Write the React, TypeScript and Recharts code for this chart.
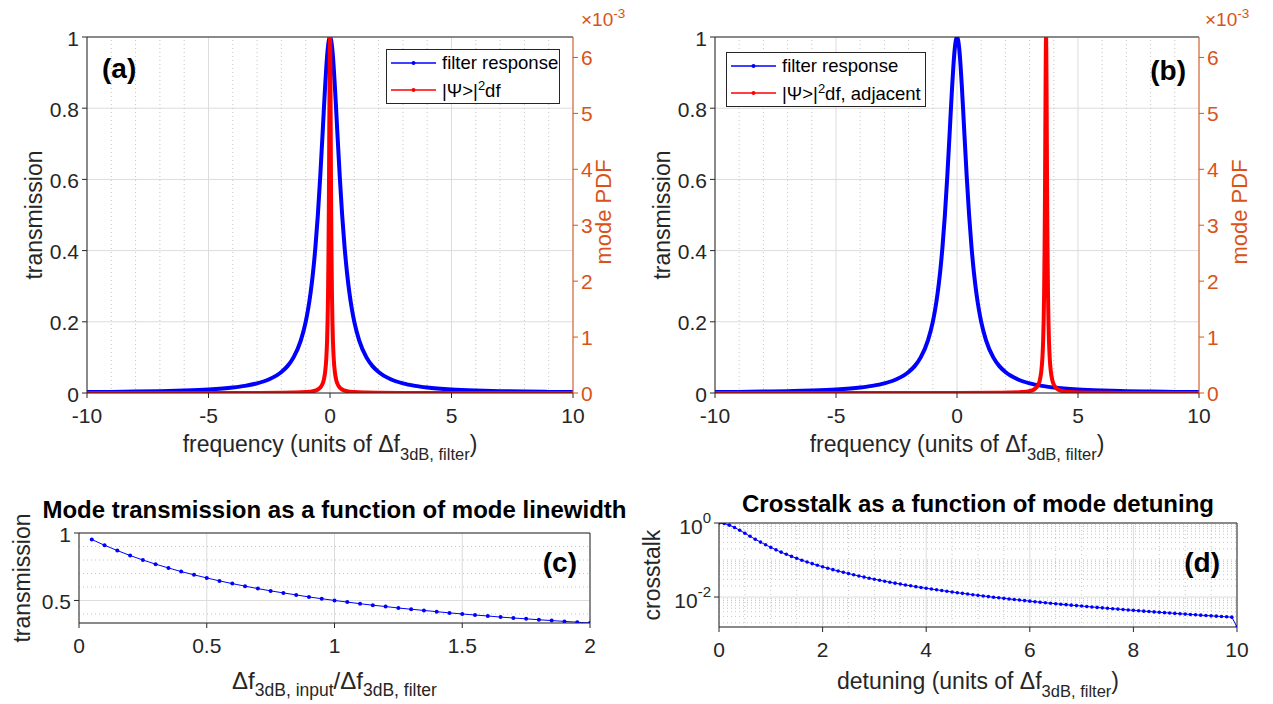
import React from 'react';
import { LineChart, Line, XAxis, YAxis, CartesianGrid, ReferenceLine, Legend } from 'recharts';

const FONT = '"Liberation Sans", Arial, Helvetica, sans-serif';
const AXIS = '#262626';
const GRID = '#dcdcdc';
const MINOR = '#c4c4c4';
const BLUE = '#0000ff';
const RED = '#ff0000';
const ORANGE = '#d95319';
const TICK_FS = 21;
const LABEL_FS = 23;
const SUB_FS = 16.5;

// (a)/(b) filter response
const filterX = [
  -10, -9, -8, -7, -6, -5, -4, -3.5, -3, -2.5, -2, -1.75, -1.5, -1.2, -1, -0.9, -0.8, -0.7, -0.6, -0.5, -0.4, -0.3,
  -0.25, -0.2, -0.15, -0.1, -0.05, 0, 0.05, 0.1, 0.15, 0.2, 0.25, 0.3, 0.4, 0.5, 0.6, 0.7, 0.8, 0.9, 1, 1.2, 1.5,
  1.75, 2, 2.5, 3, 3.5, 4, 5, 6, 7, 8, 9, 10,
];
const filterY = [
  0.0025, 0.0031, 0.0039, 0.0051, 0.0069, 0.0099, 0.0154, 0.02, 0.027, 0.0385, 0.0588, 0.0755, 0.1, 0.148, 0.2, 0.236,
  0.281, 0.338, 0.41, 0.5, 0.61, 0.735, 0.8, 0.862, 0.917, 0.962, 0.99, 1, 0.99, 0.962, 0.917, 0.862, 0.8, 0.735, 0.61,
  0.5, 0.41, 0.338, 0.281, 0.236, 0.2, 0.148, 0.1, 0.0755, 0.0588, 0.0385, 0.027, 0.02, 0.0154, 0.0099, 0.0069, 0.0051,
  0.0039, 0.0031, 0.0025,
];

// (a) mode PDF, x10^-3
const modeXA = [
  -10, -5, -3, -2, -1.5, -1, -0.7, -0.5, -0.4, -0.3, -0.25, -0.2, -0.15, -0.12, -0.1, -0.08, -0.06, -0.05, -0.04, -0.03,
  -0.02, -0.01, 0, 0.01, 0.02, 0.03, 0.04, 0.05, 0.06, 0.08, 0.1, 0.12, 0.15, 0.2, 0.25, 0.3, 0.4, 0.5, 0.7, 1, 1.5, 2,
  3, 5, 10,
];
const modePdfA = [
  0.00016, 0.00064, 0.0018, 0.004, 0.0071, 0.0159, 0.0323, 0.063, 0.098, 0.172, 0.245, 0.374, 0.637, 0.942, 1.273,
  1.788, 2.609, 3.183, 3.882, 4.681, 5.488, 6.121, 6.366, 6.121, 5.488, 4.681, 3.882, 3.183, 2.609, 1.788, 1.273, 0.942,
  0.637, 0.374, 0.245, 0.172, 0.098, 0.063, 0.0323, 0.0159, 0.0071, 0.004, 0.0018, 0.00064, 0.00016,
];

// (b) adjacent mode PDF, x10^-3
const modeXB = [
  -10, -5, 0, 1.68, 2.18, 2.68, 2.98, 3.18, 3.28, 3.38, 3.43, 3.48, 3.53, 3.56, 3.58, 3.6, 3.62, 3.63, 3.64, 3.65, 3.66,
  3.67, 3.68, 3.69, 3.7, 3.71, 3.72, 3.73, 3.74, 3.76, 3.78, 3.8, 3.83, 3.88, 3.93, 3.98, 4.08, 4.18, 4.38, 4.68, 5.18,
  5.68, 6.68, 8.68, 10,
];
const modePdfB = [
  0.000085, 0.00021, 0.00118, 0.004, 0.0071, 0.0159, 0.0323, 0.063, 0.098, 0.172, 0.245, 0.374, 0.637, 0.942, 1.273,
  1.788, 2.609, 3.183, 3.882, 4.681, 5.488, 6.121, 6.366, 6.121, 5.488, 4.681, 3.882, 3.183, 2.609, 1.788, 1.273, 0.942,
  0.637, 0.374, 0.245, 0.172, 0.098, 0.063, 0.0323, 0.0159, 0.0071, 0.004, 0.0018, 0.00064, 0.0004,
];

const freqTicks = [-10, -5, 0, 5, 10];
const freqMinor = [-9, -8, -7, -6, -4, -3, -2, -1, 1, 2, 3, 4, 6, 7, 8, 9];
const transTicks = [0, 0.2, 0.4, 0.6, 0.8, 1];
const pdfTicks = [0, 1, 2, 3, 4, 5, 6];
const pdfMax = 6.366;

// (c) mode transmission vs linewidth ratio
const ratioC = [
  0.05, 0.1, 0.15, 0.2, 0.25, 0.3, 0.35, 0.4, 0.45, 0.5, 0.55, 0.6, 0.65, 0.7, 0.75, 0.8, 0.85, 0.9, 0.95, 1, 1.05, 1.1,
  1.15, 1.2, 1.25, 1.3, 1.35, 1.4, 1.45, 1.5, 1.55, 1.6, 1.65, 1.7, 1.75, 1.8, 1.85, 1.9, 1.95, 2,
];
const transC = [
  0.952, 0.909, 0.87, 0.833, 0.8, 0.769, 0.741, 0.714, 0.69, 0.667, 0.645, 0.625, 0.606, 0.588, 0.571, 0.556, 0.541,
  0.526, 0.513, 0.5, 0.488, 0.476, 0.465, 0.455, 0.444, 0.435, 0.426, 0.417, 0.408, 0.4, 0.392, 0.385, 0.377, 0.37,
  0.364, 0.357, 0.351, 0.345, 0.339, 0.333,
];
const ticksCx = [0, 0.5, 1, 1.5, 2];
const ticksCy = [0.5, 1];
const minorCy = [0.4, 0.6, 0.7, 0.8, 0.9];

// (d) crosstalk vs detuning
const detuneD = [
  0, 0.1, 0.2, 0.3, 0.4, 0.5, 0.6, 0.7, 0.8, 0.9,
  1, 1.1, 1.2, 1.3, 1.4, 1.5, 1.6, 1.7, 1.8, 1.9,
  2, 2.1, 2.2, 2.3, 2.4, 2.5, 2.6, 2.7, 2.8, 2.9,
  3, 3.1, 3.2, 3.3, 3.4, 3.5, 3.6, 3.7, 3.8, 3.9,
  4, 4.1, 4.2, 4.3, 4.4, 4.5, 4.6, 4.7, 4.8, 4.9,
  5, 5.1, 5.2, 5.3, 5.4, 5.5, 5.6, 5.7, 5.8, 5.9,
  6, 6.1, 6.2, 6.3, 6.4, 6.5, 6.6, 6.7, 6.8, 6.9,
  7, 7.1, 7.2, 7.3, 7.4, 7.5, 7.6, 7.7, 7.8, 7.9,
  8, 8.1, 8.2, 8.3, 8.4, 8.5, 8.6, 8.7, 8.8, 8.9,
  9, 9.1, 9.2, 9.3, 9.4, 9.5, 9.6, 9.7, 9.8, 9.9,
  10,
];
const crossD = [
  1, 0.966, 0.875, 0.757, 0.637, 0.529, 0.438, 0.364, 0.305, 0.2575,
  0.2193, 0.1884, 0.1632, 0.1425, 0.1254, 0.111, 0.0989, 0.0886, 0.0798, 0.0722,
  0.0656, 0.0599, 0.0549, 0.0504, 0.0465, 0.043, 0.0399, 0.0371, 0.0346, 0.0323,
  0.0303, 0.0284, 0.0267, 0.0251, 0.0237, 0.0224, 0.0212, 0.0201, 0.0191, 0.0181,
  0.01725, 0.01644, 0.01567, 0.01496, 0.0143, 0.01368, 0.0131, 0.01256, 0.01205, 0.01156,
  0.01111, 0.01068, 0.01028, 0.0099, 0.00954, 0.0092, 0.00888, 0.00857, 0.00828, 0.008,
  0.00774, 0.00749, 0.00725, 0.00703, 0.00681, 0.0066, 0.00641, 0.00622, 0.00604, 0.00587,
  0.0057, 0.00554, 0.00539, 0.00524, 0.0051, 0.00497, 0.00484, 0.00472, 0.0046, 0.00448,
  0.00437, 0.00426, 0.00416, 0.00406, 0.00397, 0.00387, 0.00378, 0.0037, 0.00361, 0.00353,
  0.00346, 0.00338, 0.00331, 0.00324, 0.00317, 0.0031, 0.00304, 0.00298, 0.00292, 0.00286,
  0.00155,
];
const ticksDx = [0, 2, 4, 6, 8, 10];
const minorDx = [0.5, 1, 1.5, 2.5, 3, 3.5, 4.5, 5, 5.5, 6.5, 7, 7.5, 8.5, 9, 9.5];
const ticksDy = [0.01, 1];
const minorDy = [
  0.002, 0.003, 0.004, 0.005, 0.006, 0.007, 0.008, 0.009, 0.02, 0.03, 0.04, 0.05, 0.06, 0.07, 0.08, 0.09, 0.1, 0.2, 0.3,
  0.4, 0.5, 0.6, 0.7, 0.8, 0.9,
];

const XTick = (props: any) => {
  const { x, y, payload } = props;
  return (
    <text x={x} y={y + 14} textAnchor="middle" dominantBaseline="central" fontSize={TICK_FS} fill={AXIS} fontFamily={FONT}>
      {payload.value}
    </text>
  );
};

const YTickLeft = (props: any) => {
  const { x, y, payload } = props;
  return (
    <text x={x} y={y + 1} textAnchor="end" dominantBaseline="central" fontSize={TICK_FS} fill={AXIS} fontFamily={FONT}>
      {payload.value}
    </text>
  );
};

const YTickRight = (props: any) => {
  const { x, y, payload } = props;
  return (
    <text x={x} y={y} textAnchor="start" dominantBaseline="central" fontSize={TICK_FS} fill={ORANGE} fontFamily={FONT}>
      {payload.value}
    </text>
  );
};

const LogTick = (props: any) => {
  const { x, y, payload } = props;
  const exp = Math.round(Math.log10(payload.value));
  return (
    <text x={x} y={y + 3} textAnchor="end" dominantBaseline="central" fontSize={TICK_FS} fill={AXIS} fontFamily={FONT}>
      10
      <tspan dy={-9} fontSize={15}>
        {exp}
      </tspan>
    </text>
  );
};

const legendContent = (w: number, h: number) => (props: any) => (
  <div
    style={{
      width: w,
      height: h,
      boxSizing: 'border-box',
      border: `1px solid ${AXIS}`,
      background: '#fff',
      fontFamily: FONT,
      fontSize: 18.5,
      color: '#000',
    }}
  >
    {(props.payload || []).map((e: any) => {
      const parts = String(e.value).split('^2');
      return (
        <div key={e.value} style={{ display: 'flex', alignItems: 'center', height: 26.5, whiteSpace: 'nowrap' }}>
          <svg width={48} height={10} style={{ marginLeft: 4, marginRight: 3 }}>
            <line x1={0} x2={45} y1={5} y2={5} stroke={e.color} strokeWidth={1.3} />
            <circle cx={22.5} cy={5} r={2} fill={e.color} />
          </svg>
          <span>
            {parts[0]}
            {parts.length > 1 && <sup style={{ fontSize: 13 }}>2</sup>}
            {parts[1]}
          </span>
        </div>
      );
    })}
  </div>
);

type FreqProps = {
  modeX: number[];
  modeY: number[];
  modeName: string;
  legendLeft: number;
  legendTop: number;
  legendW: number;
  rightMargin: number;
};

const FreqPanel = ({ modeX, modeY, modeName, legendLeft, legendTop, legendW, rightMargin }: FreqProps) => {
  const filterData = filterX.map((x, i) => ({ x, y: filterY[i] }));
  const modeData = modeX.map((x, i) => ({ x, y: modeY[i] }));
  return (
    <LineChart width={640} height={480} margin={{ top: 37, right: rightMargin, bottom: 47, left: 0 }}>
      <CartesianGrid stroke={GRID} />
      {freqMinor.map((v) => (
        <ReferenceLine key={v} x={v} stroke={MINOR} strokeDasharray="1 3" />
      ))}
      <ReferenceLine y={1} stroke={AXIS} />
      <XAxis
        type="number"
        dataKey="x"
        domain={[-10, 10]}
        ticks={freqTicks}
        interval={0}
        height={40}
        stroke={AXIS}
        tickSize={5}
        tickMargin={3}
        tick={XTick}
        allowDataOverflow
      />
      <YAxis
        type="number"
        domain={[0, 1]}
        ticks={transTicks}
        interval={0}
        width={87}
        stroke={AXIS}
        tickSize={5}
        tickMargin={3}
        tick={YTickLeft}
        allowDataOverflow
      />
      <YAxis
        yAxisId="pdf"
        orientation="right"
        type="number"
        domain={[0, pdfMax]}
        ticks={pdfTicks}
        interval={0}
        width={60}
        stroke={ORANGE}
        tickSize={5}
        tickMargin={3}
        tick={YTickRight}
        allowDataOverflow
      />
      <Line
        data={filterData}
        dataKey="y"
        name="filter response"
        type="monotone"
        stroke={BLUE}
        strokeWidth={4}
        dot={false}
        isAnimationActive={false}
      />
      <Line
        yAxisId="pdf"
        data={modeData}
        dataKey="y"
        name={modeName}
        type="monotone"
        stroke={RED}
        strokeWidth={4}
        dot={false}
        isAnimationActive={false}
      />
      <Legend
        layout="vertical"
        align="center"
        verticalAlign="middle"
        content={legendContent(legendW, 55)}
        wrapperStyle={{ left: legendLeft, top: legendTop, width: legendW, height: 55 }}
      />
    </LineChart>
  );
};

const TransPanel = () => {
  const data = ratioC.map((x, i) => ({ x, y: transC[i] }));
  return (
    <LineChart width={630} height={214} margin={{ top: 43, right: 40, bottom: 41, left: 0 }}>
      <CartesianGrid stroke={GRID} />
      {minorCy.map((v) => (
        <ReferenceLine key={v} y={v} stroke={MINOR} strokeDasharray="1 3" />
      ))}
      <ReferenceLine y={1} stroke={AXIS} />
      <ReferenceLine x={2} stroke={AXIS} />
      <XAxis
        type="number"
        dataKey="x"
        domain={[0, 2]}
        ticks={ticksCx}
        interval={0}
        height={40}
        stroke={AXIS}
        tickSize={5}
        tickMargin={3}
        tick={XTick}
        allowDataOverflow
      />
      <YAxis
        type="number"
        domain={[0.333, 1]}
        ticks={ticksCy}
        interval={0}
        width={79}
        stroke={AXIS}
        tickSize={5}
        tickMargin={3}
        tick={YTickLeft}
        allowDataOverflow
      />
      <Line
        data={data}
        dataKey="y"
        type="linear"
        stroke={BLUE}
        strokeWidth={1}
        dot={{ r: 2, fill: BLUE, stroke: 'none' }}
        isAnimationActive={false}
      />
    </LineChart>
  );
};

const CrosstalkPanel = () => {
  const data = detuneD.map((x, i) => ({ x, y: crossD[i] }));
  return (
    <LineChart width={633} height={214} margin={{ top: 33, right: 36, bottom: 37, left: 0 }}>
      <CartesianGrid stroke={GRID} />
      {minorDx.map((v) => (
        <ReferenceLine key={`x${v}`} x={v} stroke={MINOR} strokeDasharray="1 3" />
      ))}
      {minorDy.map((v) => (
        <ReferenceLine key={`y${v}`} y={v} stroke={MINOR} strokeDasharray="1 3" />
      ))}
      <ReferenceLine y={1} stroke={AXIS} />
      <ReferenceLine x={10} stroke={AXIS} />
      <XAxis
        type="number"
        dataKey="x"
        domain={[0, 10]}
        ticks={ticksDx}
        interval={0}
        height={40}
        stroke={AXIS}
        tickSize={5}
        tickMargin={3}
        tick={XTick}
        allowDataOverflow
      />
      <YAxis
        type="number"
        scale="log"
        domain={[0.00155, 1]}
        ticks={ticksDy}
        interval={0}
        width={79}
        stroke={AXIS}
        tickSize={5}
        tickMargin={3}
        tick={LogTick}
        allowDataOverflow
      />
      <Line
        data={data}
        dataKey="y"
        type="linear"
        stroke={BLUE}
        strokeWidth={1}
        dot={{ r: 1.8, fill: BLUE, stroke: 'none' }}
        isAnimationActive={false}
      />
    </LineChart>
  );
};

const Overlay = () => (
  <svg
    width={1273}
    height={704}
    style={{ position: 'absolute', left: 0, top: 0, pointerEvents: 'none' }}
    fontFamily={FONT}
  >
    {/* (a) */}
    <text x={42} y={215} transform="rotate(-90 42 215)" textAnchor="middle" fontSize={LABEL_FS} fill={AXIS}>
      transmission
    </text>
    <text x={611} y={212} transform="rotate(-90 611 212)" textAnchor="middle" fontSize={22} fill={ORANGE}>
      mode PDF
    </text>
    <text x={581} y={26} fontSize={19} fill={ORANGE}>
      ×10<tspan dy={-8} fontSize={13.5}>-3</tspan>
    </text>
    <text x={330} y={452} textAnchor="middle" fontSize={LABEL_FS} fill={AXIS}>
      frequency (units of Δf<tspan dy={8} fontSize={SUB_FS}>3dB, filter</tspan>
      <tspan dy={-8}>)</tspan>
    </text>
    <text x={102} y={78} fontSize={28} fontWeight="bold" fill="#000">
      (a)
    </text>

    {/* (b) */}
    <text x={670} y={215} transform="rotate(-90 670 215)" textAnchor="middle" fontSize={LABEL_FS} fill={AXIS}>
      transmission
    </text>
    <text x={1247} y={212} transform="rotate(-90 1247 212)" textAnchor="middle" fontSize={22} fill={ORANGE}>
      mode PDF
    </text>
    <text x={1205} y={26} fontSize={19} fill={ORANGE}>
      ×10<tspan dy={-8} fontSize={13.5}>-3</tspan>
    </text>
    <text x={957} y={452} textAnchor="middle" fontSize={LABEL_FS} fill={AXIS}>
      frequency (units of Δf<tspan dy={8} fontSize={SUB_FS}>3dB, filter</tspan>
      <tspan dy={-8}>)</tspan>
    </text>
    <text x={1186} y={80} textAnchor="end" fontSize={28} fontWeight="bold" fill="#000">
      (b)
    </text>

    {/* (c) */}
    <text x={334.5} y={518} textAnchor="middle" fontSize={24} fontWeight="bold" fill="#000">
      Mode transmission as a function of mode linewidth
    </text>
    <text x={30} y={578} transform="rotate(-90 30 578)" textAnchor="middle" fontSize={LABEL_FS} fill={AXIS}>
      transmission
    </text>
    <text x={334.5} y={689} textAnchor="middle" fontSize={24} fill={AXIS}>
      Δf<tspan dy={7} fontSize={17.5}>3dB, input</tspan>
      <tspan dy={-7}>/Δf</tspan>
      <tspan dy={7} fontSize={17.5}>3dB, filter</tspan>
    </text>
    <text x={577} y={572} textAnchor="end" fontSize={28} fontWeight="bold" fill="#000">
      (c)
    </text>

    {/* (d) */}
    <text x={978} y={512} textAnchor="middle" fontSize={24} fontWeight="bold" fill="#000">
      Crosstalk as a function of mode detuning
    </text>
    <text x={660} y={575} transform="rotate(-90 660 575)" textAnchor="middle" fontSize={LABEL_FS} fill={AXIS}>
      crosstalk
    </text>
    <text x={978} y={689} textAnchor="middle" fontSize={LABEL_FS} fill={AXIS}>
      detuning (units of Δf<tspan dy={8} fontSize={SUB_FS}>3dB, filter</tspan>
      <tspan dy={-8}>)</tspan>
    </text>
    <text x={1220} y={572} textAnchor="end" fontSize={28} fontWeight="bold" fill="#000">
      (d)
    </text>
  </svg>
);

export default function App() {
  return (
    <div
      style={{
        position: 'absolute',
        left: 0,
        top: 0,
        width: 1273,
        height: 704,
        background: '#fff',
        fontFamily: FONT,
        overflow: 'hidden',
      }}
    >
      <div style={{ position: 'absolute', left: 0, top: 0 }}>
        <FreqPanel
          modeX={modeXA}
          modeY={modePdfA}
          modeName="|Ψ>|^2df"
          legendLeft={386}
          legendTop={49}
          legendW={174}
          rightMargin={7}
        />
      </div>
      <div style={{ position: 'absolute', left: 628, top: 0 }}>
        <FreqPanel
          modeX={modeXB}
          modeY={modePdfB}
          modeName="|Ψ>|^2df, adjacent"
          legendLeft={98}
          legendTop={52}
          legendW={200}
          rightMargin={9}
        />
      </div>
      <div style={{ position: 'absolute', left: 0, top: 490 }}>
        <TransPanel />
      </div>
      <div style={{ position: 'absolute', left: 640, top: 490 }}>
        <CrosstalkPanel />
      </div>
      <Overlay />
    </div>
  );
}
